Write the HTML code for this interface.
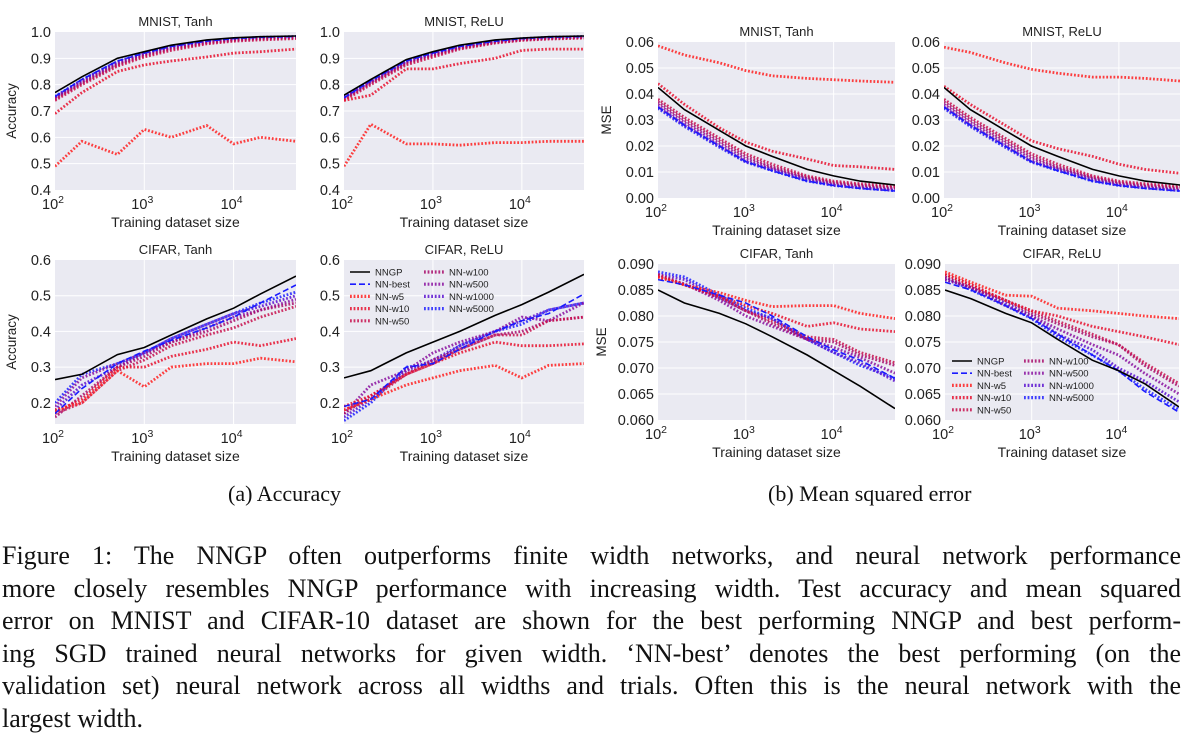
<!DOCTYPE html>
<html><head><meta charset="utf-8">
<style>
body{margin:0;background:#fff;width:1191px;height:741px;overflow:hidden;position:relative;font-family:"Liberation Serif",serif;}
svg{position:absolute;left:0;top:0;}
.cap{position:absolute;font-size:22px;color:#111;}
.para{position:absolute;left:2px;width:1179px;font-size:26px;color:#111;text-align:justify;text-align-last:justify;white-space:nowrap;line-height:32.5px;}
.para div{height:32.5px;}
.para div.last{text-align-last:left;}
</style></head><body>
<svg id="fig" width="1191" height="480"></svg>
<div class="cap" style="left:228px;top:481px;">(a) Accuracy</div>
<div class="cap" style="left:768px;top:481px;">(b) Mean squared error</div>
<div class="para" style="top:540px;">
<div>Figure 1: The NNGP often outperforms finite width networks, and neural network performance</div>
<div>more closely resembles NNGP performance with increasing width. Test accuracy and mean squared</div>
<div>error on MNIST and CIFAR-10 dataset are shown for the best performing NNGP and best perform-</div>
<div>ing SGD trained neural networks for given width. ‘NN-best’ denotes the best performing (on the</div>
<div>validation set) neural network across all widths and trials. Often this is the neural network with the</div>
<div class="last">largest width.</div>
</div>
<script>
const sizes=[100,200,500,1000,2000,5000,10000,20000,50000];
const seriesNames=["NNGP","NN-best","NN-w5","NN-w10","NN-w50","NN-w100","NN-w500","NN-w1000","NN-w5000"];
const accTicks=[0.4,0.5,0.6,0.7,0.8,0.9,1.0];
const cifAccTicks=[0.2,0.3,0.4,0.5,0.6];
const mseTicks=[0,0.01,0.02,0.03,0.04,0.05,0.06];
const cifMseTicks=[0.060,0.065,0.070,0.075,0.080,0.085,0.090];
// MNIST Tanh accuracy
const accMT_nngp=[.77,.83,.90,.925,.95,.97,.978,.982,.985];
const accMT_best=[.755,.82,.89,.92,.945,.965,.975,.98,.983];
const accMT_w5=[.49,.585,.535,.63,.60,.645,.575,.60,.585];
const accMT_w10=[.69,.77,.85,.875,.89,.905,.92,.925,.935];
const accMT_w50=[.74,.80,.87,.905,.93,.955,.965,.97,.975];
const accMT_w100=[.745,.805,.875,.91,.935,.958,.968,.974,.978];
const accMT_w500=[.75,.81,.88,.915,.94,.96,.97,.977,.981];
const accMT_w1000=[.752,.815,.885,.918,.943,.963,.972,.978,.982];
const accMT_w5000=[.755,.818,.888,.92,.945,.965,.974,.98,.983];
// MNIST ReLU accuracy
const accMR_nngp=[.76,.82,.895,.925,.95,.97,.977,.982,.985];
const accMR_best=[.75,.815,.89,.92,.945,.965,.975,.98,.983];
const accMR_w5=[.49,.65,.575,.575,.57,.58,.58,.585,.585];
const accMR_w10=[.74,.76,.86,.86,.88,.90,.93,.935,.935];
const accMR_w50=[.74,.80,.875,.905,.935,.958,.968,.973,.977];
const accMR_w100=[.745,.805,.88,.91,.938,.96,.97,.975,.979];
const accMR_w500=[.75,.81,.885,.915,.94,.962,.972,.977,.981];
const accMR_w1000=[.752,.812,.887,.918,.943,.964,.973,.979,.982];
const accMR_w5000=[.755,.815,.89,.92,.945,.965,.975,.98,.983];
// CIFAR Tanh accuracy
const accCT_nngp=[.265,.28,.335,.355,.39,.435,.465,.505,.555];
const accCT_best=[.17,.24,.31,.345,.375,.41,.44,.48,.53];
const accCT_w5=[.18,.2,.29,.245,.3,.31,.31,.325,.315];
const accCT_w10=[.175,.21,.30,.30,.33,.35,.37,.36,.38];
const accCT_w50=[.17,.2,.29,.32,.36,.39,.41,.44,.47];
const accCT_w100=[.16,.22,.3,.33,.37,.40,.43,.46,.48];
const accCT_w500=[.19,.27,.31,.34,.37,.41,.44,.46,.49];
const accCT_w1000=[.18,.25,.3,.34,.38,.42,.45,.47,.5];
const accCT_w5000=[.2,.28,.31,.34,.38,.42,.45,.48,.51];
// CIFAR ReLU accuracy
const accCR_nngp=[.27,.29,.34,.37,.40,.445,.475,.51,.56];
const accCR_best=[.19,.21,.30,.31,.35,.40,.43,.45,.505];
const accCR_w5=[.18,.21,.25,.27,.29,.305,.27,.305,.31];
const accCR_w10=[.19,.22,.28,.31,.34,.37,.36,.36,.365];
const accCR_w50=[.18,.21,.28,.31,.35,.39,.39,.43,.44];
const accCR_w100=[.17,.22,.28,.32,.35,.39,.40,.43,.44];
const accCR_w500=[.17,.25,.29,.34,.37,.40,.44,.43,.48];
const accCR_w1000=[.16,.21,.29,.32,.36,.40,.43,.46,.48];
const accCR_w5000=[.15,.2,.3,.31,.36,.40,.42,.46,.48];
// MNIST Tanh MSE
const mseMT_nngp=[.0425,.034,.026,.020,.016,.011,.0085,.0065,.005];
const mseMT_best=[.035,.028,.02,.014,.0105,.0065,.0048,.0037,.0027];
const mseMT_w5=[.0585,.055,.052,.049,.047,.046,.0455,.045,.0445];
const mseMT_w10=[.044,.036,.027,.0215,.018,.015,.0125,.012,.011];
const mseMT_w50=[.038,.031,.023,.017,.013,.0085,.0065,.0055,.0045];
const mseMT_w100=[.037,.030,.022,.016,.012,.008,.006,.005,.004];
const mseMT_w500=[.036,.029,.021,.015,.0115,.0075,.0055,.0045,.0035];
const mseMT_w1000=[.035,.028,.020,.014,.011,.007,.005,.004,.003];
const mseMT_w5000=[.0345,.0275,.0195,.0138,.0105,.0065,.0048,.0038,.0028];
// MNIST ReLU MSE
const mseMR_nngp=[.0425,.034,.026,.020,.016,.011,.0085,.0065,.005];
const mseMR_best=[.035,.028,.02,.014,.0105,.0065,.0048,.0037,.0027];
const mseMR_w5=[.058,.056,.052,.0495,.048,.0465,.0465,.046,.045];
const mseMR_w10=[.043,.036,.028,.022,.019,.016,.013,.011,.0095];
const mseMR_w50=[.038,.031,.023,.017,.013,.0085,.0065,.0055,.0045];
const mseMR_w100=[.037,.030,.022,.016,.012,.008,.006,.005,.004];
const mseMR_w500=[.036,.029,.021,.015,.0115,.0075,.0055,.0045,.0035];
const mseMR_w1000=[.035,.028,.020,.014,.011,.007,.005,.004,.003];
const mseMR_w5000=[.0345,.0275,.0195,.0138,.0105,.0065,.0048,.0038,.0028];
// CIFAR Tanh MSE
const mseCT_nngp=[.085,.0825,.0805,.0785,.076,.0725,.0695,.0665,.0622];
const mseCT_best=[.087,.086,.084,.0825,.080,.076,.0735,.0715,.068];
const mseCT_w5=[.0875,.086,.0845,.083,.0818,.082,.082,.0805,.0795];
const mseCT_w10=[.0875,.086,.0838,.082,.0805,.078,.0787,.0775,.077];
const mseCT_w50=[.088,.086,.0838,.081,.079,.076,.0755,.073,.071];
const mseCT_w100=[.0875,.086,.0835,.081,.0785,.0755,.075,.0725,.0705];
const mseCT_w500=[.0878,.0862,.083,.080,.078,.0755,.074,.072,.069];
const mseCT_w1000=[.088,.087,.0835,.081,.0795,.0755,.073,.071,.0675];
const mseCT_w5000=[.0885,.0875,.084,.0815,.0795,.0755,.073,.0705,.068];
// CIFAR ReLU MSE
const mseCR_nngp=[.085,.0833,.0805,.0787,.0755,.0715,.0695,.067,.0625];
const mseCR_best=[.0865,.085,.082,.0795,.0765,.0725,.0695,.0655,.0615];
const mseCR_w5=[.0885,.0865,.084,.0838,.0815,.081,.0805,.080,.0795];
const mseCR_w10=[.088,.086,.083,.081,.080,.078,.077,.076,.0745];
const mseCR_w50=[.088,.086,.083,.081,.079,.0765,.0745,.071,.067];
const mseCR_w100=[.0875,.0855,.083,.0805,.0785,.076,.0745,.0705,.0665];
const mseCR_w500=[.087,.0855,.082,.080,.0775,.0745,.0725,.069,.065];
const mseCR_w1000=[.087,.0855,.0825,.080,.0765,.0735,.070,.0675,.0635];
const mseCR_w5000=[.0875,.085,.082,.0795,.076,.0725,.0695,.066,.062];

const colors=["#000","#1a1aff","#ff2020","#e8102e","#c8104e","#a80a6a","#8a10a0","#5a10d0","#2020ff"];
const NS="http://www.w3.org/2000/svg";
const svg=document.getElementById('fig');
function mk(tag,attrs,parent){const e=document.createElementNS(NS,tag);for(const k in attrs)e.setAttribute(k,attrs[k]);(parent||svg).appendChild(e);return e;}

const panels=[
 {id:"mnist-tanh-acc",title:"MNIST, Tanh",x0:55,x1:296,top:32,bot:190,ymin:.4,ymax:1.0,ticks:accTicks,dec:1,ylab:"Accuracy",data:[accMT_nngp,accMT_best,accMT_w5,accMT_w10,accMT_w50,accMT_w100,accMT_w500,accMT_w1000,accMT_w5000]},
 {id:"mnist-relu-acc",title:"MNIST, ReLU",x0:344,x1:584,top:32,bot:190,ymin:.4,ymax:1.0,ticks:accTicks,dec:1,ylab:null,data:[accMR_nngp,accMR_best,accMR_w5,accMR_w10,accMR_w50,accMR_w100,accMR_w500,accMR_w1000,accMR_w5000]},
 {id:"cifar-tanh-acc",title:"CIFAR, Tanh",x0:55,x1:296,top:260,bot:424,ymin:.1408,ymax:.6,ticks:cifAccTicks,dec:1,ylab:"Accuracy",data:[accCT_nngp,accCT_best,accCT_w5,accCT_w10,accCT_w50,accCT_w100,accCT_w500,accCT_w1000,accCT_w5000]},
 {id:"cifar-relu-acc",title:"CIFAR, ReLU",x0:344,x1:584,top:260,bot:424,ymin:.1408,ymax:.6,ticks:cifAccTicks,dec:1,ylab:null,legend:[350,272,424],data:[accCR_nngp,accCR_best,accCR_w5,accCR_w10,accCR_w50,accCR_w100,accCR_w500,accCR_w1000,accCR_w5000]},
 {id:"mnist-tanh-mse",title:"MNIST, Tanh",x0:658,x1:895,top:42,bot:198,ymin:0,ymax:.06,ticks:mseTicks,dec:2,ylab:"MSE",data:[mseMT_nngp,mseMT_best,mseMT_w5,mseMT_w10,mseMT_w50,mseMT_w100,mseMT_w500,mseMT_w1000,mseMT_w5000]},
 {id:"mnist-relu-mse",title:"MNIST, ReLU",x0:944,x1:1180,top:42,bot:198,ymin:0,ymax:.06,ticks:mseTicks,dec:2,ylab:null,data:[mseMR_nngp,mseMR_best,mseMR_w5,mseMR_w10,mseMR_w50,mseMR_w100,mseMR_w500,mseMR_w1000,mseMR_w5000]},
 {id:"cifar-tanh-mse",title:"CIFAR, Tanh",x0:658,x1:895,top:264,bot:420,ymin:.06,ymax:.09,ticks:cifMseTicks,dec:3,ylab:"MSE",data:[mseCT_nngp,mseCT_best,mseCT_w5,mseCT_w10,mseCT_w50,mseCT_w100,mseCT_w500,mseCT_w1000,mseCT_w5000]},
 {id:"cifar-relu-mse",title:"CIFAR, ReLU",x0:945,x1:1179,top:264,bot:420,ymin:.06,ymax:.09,ticks:cifMseTicks,dec:3,ylab:null,legend:[952,361,1024],data:[mseCR_nngp,mseCR_best,mseCR_w5,mseCR_w10,mseCR_w50,mseCR_w100,mseCR_w500,mseCR_w1000,mseCR_w5000]}
];

function styleFor(i){
 if(i===0)return {stroke:colors[0],"stroke-width":1.6,fill:"none"};
 if(i===1)return {stroke:colors[1],"stroke-width":1.6,fill:"none","stroke-dasharray":"6 3"};
 return {stroke:colors[i],"stroke-width":2.8,fill:"none","stroke-dasharray":"1.8 1.8","stroke-opacity":0.85};
}
const F='"Liberation Sans","DejaVu Sans",sans-serif';
panels.forEach(p=>{
 const g=mk('g',{});
 
 
 const lx=Math.log10(100),hx=Math.log10(50000);
 const X=v=>p.x0+(Math.log10(v)-lx)/(hx-lx)*(p.x1-p.x0);
 const Y=v=>p.bot-(v-p.ymin)/(p.ymax-p.ymin)*(p.bot-p.top);
 const bg=mk('rect',{x:p.x0,y:p.top,width:p.x1-p.x0,height:p.bot-p.top,fill:"#eaeaf2"},g);
 
 
 p.ticks.forEach(t=>{
  const y=Y(t);
  if(y>p.top+0.5&&y<p.bot-0.5)mk('line',{x1:p.x0,x2:p.x1,y1:y,y2:y,stroke:"#fff","stroke-width":1},g);
  const tl=mk('text',{x:p.x0-4,y:y+5,"text-anchor":"end","font-size":14.5,"font-family":F,fill:"#222"},g);
  tl.textContent=t.toFixed(p.dec);
  
  
 });
 [2,3,4].forEach(e=>{
  const x=X(Math.pow(10,e));
  if(e>2)mk('line',{x1:x,x2:x,y1:p.top,y2:p.bot,stroke:"#fff","stroke-width":1},g);
  const tl=mk('text',{x:x-2,y:p.bot+19,"text-anchor":"middle","font-size":14.5,"font-family":F,fill:"#222"},g);
  tl.innerHTML='10<tspan dy="-6" font-size="10.5">'+e+'</tspan>';
  
  
 });
 const xl=mk('text',{x:(p.x0+p.x1)/2,y:p.bot+37,"text-anchor":"middle","font-size":14,"font-family":F,fill:"#222"},g);
 xl.textContent="Training dataset size";
 
 
 const tt=mk('text',{x:(p.x0+p.x1)/2,y:p.top-6,"text-anchor":"middle","font-size":13,"font-family":F,fill:"#222"},g);
 tt.textContent=p.title;
 
 
 if(p.ylab){
  const cx=p.x0-(p.dec===1?39:p.dec===2?47:52),cy=(p.top+p.bot)/2;
  const yl=mk('text',{x:cx,y:cy,"text-anchor":"middle","font-size":13.5,"font-family":F,fill:"#222",transform:`rotate(-90 ${cx} ${cy})`},g);
  yl.textContent=p.ylab;
  
  
 }
 const clip='clip-'+p.id;
 const cp=mk('clipPath',{id:clip},g);mk('rect',{x:p.x0,y:p.top,width:p.x1-p.x0,height:p.bot-p.top},cp);
 const lg=mk('g',{"clip-path":`url(#${clip})`},g);
 for(let i=p.data.length-1;i>=0;i--){
  const d=p.data[i].map((v,k)=>(k?'L':'M')+X(sizes[k]).toFixed(1)+','+Y(v).toFixed(1)).join('');
  const s=styleFor(i);s.d=d;
  const path=mk('path',s,lg);
  
  
 }
 if(p.legend){
  const [c1,r0,c2]=p.legend;
  const leg=mk('g',{},g);
  
  
  seriesNames.forEach((n,i)=>{
   const col=i<5?0:1,row=i<5?i:i-5;
   const x=col?c2:c1,y=r0+row*12.2;
   const s=styleFor(i);s.x1=x;s.x2=x+20;s.y1=y;s.y2=y;
   if(i>=2)s["stroke-width"]=3.2;
   mk('line',s,leg);
   const t=mk('text',{x:x+25,y:y+3.5,"font-size":9.5,"font-family":F,fill:"#222"},leg);
   t.textContent=n;
   
   
  });
 }
});
</script>
</body></html>
